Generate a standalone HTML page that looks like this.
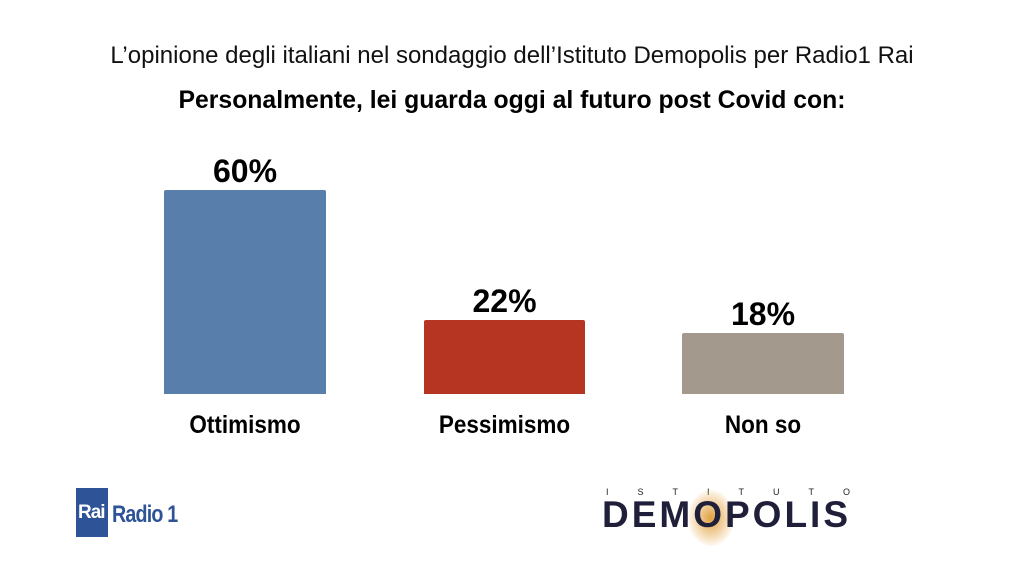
<!DOCTYPE html>
<html><head><style>
body{margin:0;width:1024px;height:576px;background:#fff;position:relative;overflow:hidden;font-family:"Liberation Sans",sans-serif;}
.a{position:absolute;}
.t{text-align:center;white-space:nowrap;}
</style></head><body>
<div class="a t" style="left:0;width:1024px;top:42px;font-size:24px;color:#111;">L’opinione degli italiani nel sondaggio dell’Istituto Demopolis per Radio1 Rai</div>
<div class="a t" style="left:0;width:1024px;top:86px;font-size:25px;font-weight:bold;color:#000;transform:scaleX(0.99);">Personalmente, lei guarda oggi al futuro post Covid con:</div>

<div class="a" style="left:164px;top:190px;width:162px;height:204px;background:#587eab;border-radius:2px 2px 0 0"></div>
<div class="a" style="left:424px;top:320px;width:161px;height:74px;background:#b63522;border-radius:2px 2px 0 0"></div>
<div class="a" style="left:682px;top:333px;width:162px;height:61px;background:#a39a8d;border-radius:2px 2px 0 0"></div>

<div class="a t" style="left:164px;width:162px;top:153px;font-size:32px;font-weight:bold;">60%</div>
<div class="a t" style="left:424px;width:161px;top:283px;font-size:32px;font-weight:bold;">22%</div>
<div class="a t" style="left:682px;width:162px;top:296px;font-size:32px;font-weight:bold;">18%</div>

<div class="a t" style="left:144px;width:202px;top:411px;font-size:25px;font-weight:bold;transform:scaleX(0.9);">Ottimismo</div>
<div class="a t" style="left:404px;width:201px;top:411px;font-size:25px;font-weight:bold;transform:scaleX(0.9);">Pessimismo</div>
<div class="a t" style="left:662px;width:202px;top:411px;font-size:25px;font-weight:bold;transform:scaleX(0.9);">Non so</div>

<div class="a" style="left:76px;top:488px;width:32px;height:49px;background:#2e5397;"></div>
<div class="a" style="left:78px;top:502px;font-size:19px;font-weight:bold;color:#fff;letter-spacing:-1px;">Rai</div>
<div class="a" style="left:112px;top:501px;font-size:24px;font-weight:bold;color:#2e5397;letter-spacing:-1px;transform:scaleX(0.82);transform-origin:left;">Radio 1</div>

<div class="a" style="left:606px;top:487px;width:244px;display:flex;justify-content:space-between;font-size:9px;color:#222;"><span>I</span><span>S</span><span>T</span><span>I</span><span>T</span><span>U</span><span>T</span><span>O</span></div>
<div class="a" style="left:688px;top:490px;width:46px;height:56px;border-radius:50%;background:radial-gradient(#e0a040,rgba(240,190,120,0.3) 60%,transparent 75%);"></div>
<div class="a" style="left:602px;top:494px;font-size:37px;font-weight:bold;color:#1f1f3a;letter-spacing:3px;">DEMOPOLIS</div>
</body></html>
